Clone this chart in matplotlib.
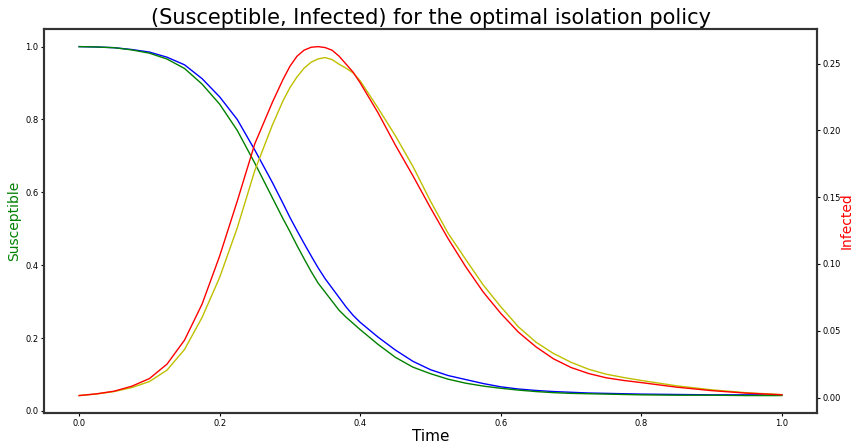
import matplotlib
matplotlib.use("Agg")
import matplotlib.pyplot as plt

t = [0, 0.025, 0.05, 0.075, 0.1, 0.125, 0.15, 0.175, 0.2, 0.225, 0.25, 0.275,
     0.29, 0.3, 0.31, 0.32, 0.33, 0.34, 0.35, 0.36, 0.37, 0.38, 0.39, 0.4,
     0.425, 0.45, 0.475, 0.5, 0.525, 0.55, 0.575, 0.6, 0.625, 0.65, 0.675, 0.7,
     0.725, 0.75, 0.775, 0.8, 0.85, 0.9, 0.95, 1.0]

susceptible_green = [1.0, 0.999, 0.997, 0.991, 0.982, 0.966, 0.940, 0.897, 0.842, 0.770, 0.680, 0.585,
                     0.528, 0.492, 0.454, 0.418, 0.383, 0.351, 0.326, 0.301, 0.276, 0.257, 0.240, 0.223,
                     0.183, 0.147, 0.120, 0.102, 0.087, 0.076, 0.068, 0.062, 0.057, 0.053, 0.050, 0.048,
                     0.047, 0.046, 0.045, 0.044, 0.043, 0.043, 0.042, 0.042]
susceptible_blue = [1.0, 0.999, 0.997, 0.992, 0.985, 0.971, 0.950, 0.912, 0.862, 0.800, 0.716, 0.627,
                    0.570, 0.531, 0.495, 0.460, 0.426, 0.393, 0.363, 0.337, 0.311, 0.285, 0.262, 0.243,
                    0.203, 0.167, 0.136, 0.113, 0.097, 0.086, 0.075, 0.066, 0.060, 0.056, 0.053, 0.051,
                    0.049, 0.048, 0.047, 0.046, 0.045, 0.044, 0.044, 0.044]
infected_red = [0.0015, 0.0028, 0.0048, 0.0085, 0.0142, 0.025, 0.043, 0.070, 0.106, 0.147, 0.190, 0.221,
                0.238, 0.248, 0.2555, 0.260, 0.2622, 0.2627, 0.262, 0.260, 0.2555, 0.2495, 0.2435, 0.2355,
                0.2135, 0.189, 0.166, 0.142, 0.119, 0.098, 0.079, 0.063, 0.049, 0.038, 0.029, 0.0225,
                0.018, 0.0148, 0.0128, 0.0112, 0.0078, 0.0052, 0.0033, 0.0021]
infected_yellow = [0.0015, 0.0027, 0.0045, 0.0075, 0.012, 0.0205, 0.036, 0.060, 0.090, 0.127, 0.170, 0.204,
                   0.222, 0.232, 0.240, 0.2465, 0.251, 0.2535, 0.2545, 0.253, 0.2495, 0.2465, 0.243, 0.237,
                   0.217, 0.196, 0.173, 0.147, 0.123, 0.1035, 0.0843, 0.068, 0.053, 0.0415, 0.033, 0.0264,
                   0.0212, 0.0175, 0.015, 0.0128, 0.0088, 0.0058, 0.0036, 0.0022]

fig = plt.figure(figsize=(8.54, 4.44), dpi=100)
ax = fig.add_axes([0.0515, 0.0698, 0.9052, 0.8645])
ax2 = ax.twinx()

ax.plot(t, susceptible_blue, color='b', linewidth=1)
ax.plot(t, susceptible_green, color='g', linewidth=1)
ax2.plot(t, infected_yellow, color='y', linewidth=1)
ax2.plot(t, infected_red, color='r', linewidth=1)

ax.set_xticks([0.0, 0.2, 0.4, 0.6, 0.8, 1.0])
ax.set_yticks([0.0, 0.2, 0.4, 0.6, 0.8, 1.0])
ax2.set_yticks([0.0, 0.05, 0.10, 0.15, 0.20, 0.25])
ax.tick_params(labelsize=6, length=2.5, width=0.8, pad=1.5)
ax2.tick_params(labelsize=6, length=2.5, width=0.8, pad=1.2)

for a in (ax, ax2):
    for s in a.spines.values():
        s.set_linewidth(1.5)
        s.set_color('#333333')

ax.set_xlabel('Time', fontsize=11, labelpad=1)
ax.set_ylabel('Susceptible', color='g', fontsize=10, labelpad=3)
ax2.set_ylabel('Infected', color='r', fontsize=10, labelpad=-0.5)
ax.set_title('(Susceptible, Infected) for the optimal isolation policy', fontsize=15, pad=4)

fig.savefig('out.png', dpi=100)
